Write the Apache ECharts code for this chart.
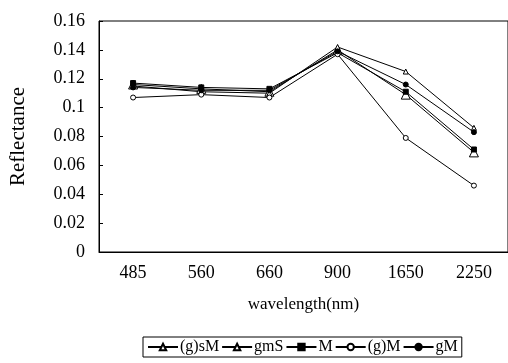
<!DOCTYPE html>
<html>
<head>
<meta charset="utf-8">
<script src="https://cdn.jsdelivr.net/npm/echarts@6/dist/echarts.min.js"></script>
<style>
  html, body {margin: 0; padding: 0; background: #fff;}
  #chart {width: 508px; height: 363px;}
</style>
</head>
<body>
<div id="chart"></div>
<script>
// wavelengths (nm)
var wavelengths = ['485', '560', '660', '900', '1650', '2250'];

// reflectance per soil class
var gsM = [0.116, 0.113, 0.111, 0.140, 0.109, 0.069];
var gmS = [0.115, 0.111, 0.110, 0.142, 0.125, 0.086];
var M   = [0.117, 0.114, 0.113, 0.138, 0.111, 0.071];
var g_M = [0.107, 0.109, 0.107, 0.137, 0.079, 0.046];
var gM  = [0.114, 0.112, 0.112, 0.139, 0.116, 0.083];

var yTicks = [0, 0.02, 0.04, 0.06, 0.08, 0.1, 0.12, 0.14, 0.16];

var font = 'Liberation Serif';

function line(name, data, symbol, size, fill) {
  return {
    name: name,
    type: 'line',
    data: data,
    symbol: symbol,
    symbolSize: size,
    showAllSymbol: true,
    lineStyle: {color: '#000', width: 1},
    itemStyle: {color: fill, borderColor: '#000', borderWidth: 1},
    emphasis: {disabled: true}
  };
}

var chart = echarts.init(document.getElementById('chart'));
chart.setOption({
  animation: false,
  textStyle: {fontFamily: font, color: '#000'},
  grid: {left: 92, top: 21, width: 419, height: 231, show: true, borderColor: '#000', borderWidth: 1},
  legend: {
    left: 143,
    top: 337,
    itemWidth: 30,
    itemHeight: 8,
    itemGap: 2,
    padding: [2, 4, 2, 4],
    borderColor: '#000',
    borderWidth: 1,
    textStyle: {fontFamily: font, fontSize: 16, color: '#000', padding: [0, 0, 0, -3]},
    data: ['(g)sM', 'gmS', 'M', '(g)M', 'gM']
  },
  xAxis: {
    type: 'category',
    data: wavelengths,
    boundaryGap: true,
    name: 'wavelength(nm)',
    nameLocation: 'middle',
    nameGap: 44,
    nameTextStyle: {fontFamily: font, fontSize: 17, color: '#000'},
    axisLine: {lineStyle: {color: '#000', width: 1}},
    axisTick: {inside: true, length: 4, lineStyle: {color: '#000'}},
    axisLabel: {fontFamily: font, fontSize: 18, color: '#000', margin: 12},
    splitLine: {show: false}
  },
  yAxis: {
    type: 'value',
    min: yTicks[0],
    max: yTicks[yTicks.length - 1],
    interval: 0.02,
    name: 'Reflectance',
    nameLocation: 'middle',
    nameGap: 70,
    nameTextStyle: {fontFamily: font, fontSize: 21, color: '#000'},
    axisLine: {show: true, lineStyle: {color: '#000', width: 1}},
    axisTick: {show: true, inside: true, length: 4, lineStyle: {color: '#000'}},
    axisLabel: {
      fontFamily: font, fontSize: 18, color: '#000', margin: 14,
      formatter: function (v) {
        for (var i = 0; i < yTicks.length; i++) {
          if (Math.abs(yTicks[i] - v) < 1e-9) return String(yTicks[i]);
        }
        return '';
      }
    },
    splitLine: {show: false}
  },
  series: [
    line('(g)sM', gsM, 'triangle', 9, '#fff'),
    line('gmS', gmS, 'triangle', 5, '#fff'),
    line('M', M, 'rect', 5, '#000'),
    line('(g)M', g_M, 'circle', 5, '#fff'),
    line('gM', gM, 'circle', 5, '#000')
  ]
});
</script>
</body>
</html>
